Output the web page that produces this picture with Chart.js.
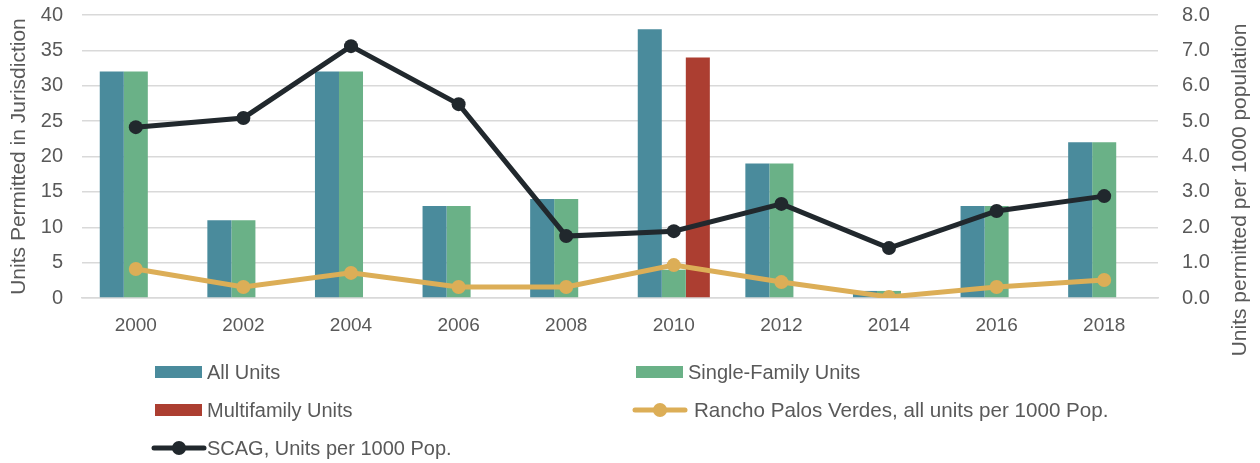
<!DOCTYPE html>
<html><head><meta charset="utf-8">
<script src="https://cdn.jsdelivr.net/npm/chart.js@4"></script>
<style>html,body{margin:0;padding:0;background:#fff;}#wrap{width:1260px;height:463px;}</style>
</head><body><div id="wrap"><canvas id="c" width="1260" height="463"></canvas></div>
<script>
const categories = ['2000','2002','2004','2006','2008','2010','2012','2014','2016','2018'];
const allUnits = [32, 11, 32, 13, 14, 38, 19, 1, 13, 22];
const singleFamily = [32, 11, 32, 13, 14, 4, 19, 1, 13, 22];
const multiFamily = [0, 0, 0, 0, 0, 34, 0, 0, 0, 0];
const rancho = [0.82, 0.31, 0.71, 0.31, 0.31, 0.93, 0.45, 0.03, 0.31, 0.51];
const scag = [4.83, 5.09, 7.12, 5.48, 1.75, 1.89, 2.66, 1.41, 2.46, 2.88];
const leftTicks = [0,5,10,15,20,25,30,35,40];
const rightTicks = ['0.0','1.0','2.0','3.0','4.0','5.0','6.0','7.0','8.0'];

const TXT = '#595959';
const FONT = '"Liberation Sans", Arial, sans-serif';
const C_TEAL = '#4A8B9C', C_GREEN = '#6AB187', C_RED = '#AC3E31', C_YEL = '#DCAE57', C_DARK = '#21282D';

const legendPlugin = {
  id: 'customLegend',
  afterDraw(chart) {
    const ctx = chart.ctx;
    const ds = chart.data.datasets;
    const items = [
      {i:0, x:155, y:372}, {i:1, x:636, y:372},
      {i:2, x:155, y:410}, {i:3, x:636, y:410},
      {i:4, x:155, y:448}
    ];
    ctx.save();
    ctx.textBaseline = 'middle';
    ctx.textAlign = 'left';
    items.forEach(it => {
      const d = ds[it.i];
      ctx.font = (it.i === 3 ? '20.6px ' : '20px ') + FONT;
      if (d.type === 'line') {
        ctx.strokeStyle = d.borderColor; ctx.lineWidth = 5; ctx.lineCap = 'round';
        ctx.beginPath(); ctx.moveTo(it.x - 1, it.y); ctx.lineTo(it.x + 49, it.y); ctx.stroke();
        ctx.fillStyle = d.borderColor;
        ctx.beginPath(); ctx.arc(it.x + 24, it.y, 7, 0, Math.PI*2); ctx.fill();
        ctx.fillStyle = TXT;
        ctx.fillText(d.label, it.x + (it.i === 3 ? 58 : 52), it.y + 1);
      } else {
        ctx.fillStyle = d.backgroundColor;
        ctx.fillRect(it.x, it.y - 6, 47, 12);
        ctx.fillStyle = TXT;
        ctx.fillText(d.label, it.x + 52, it.y + 1);
      }
    });
    ctx.translate(1240, 190);
    ctx.rotate(-Math.PI/2);
    ctx.textAlign = 'center';
    ctx.font = '21px ' + FONT;
    ctx.fillText('Units permitted per 1000 population', 0, 0);
    ctx.restore();
  }
};

new Chart(document.getElementById('c'), {
  data: {
    labels: categories,
    datasets: [
      {type:'bar', label:'All Units', data: allUnits, backgroundColor: C_TEAL, yAxisID:'y', order:2, categoryPercentage:0.67, barPercentage:1},
      {type:'bar', label:'Single-Family Units', data: singleFamily, backgroundColor: C_GREEN, yAxisID:'y', order:2, categoryPercentage:0.67, barPercentage:1},
      {type:'bar', label:'Multifamily Units', data: multiFamily, backgroundColor: C_RED, yAxisID:'y', order:2, categoryPercentage:0.67, barPercentage:1},
      {type:'line', label:'Rancho Palos Verdes, all units per 1000 Pop.', data: rancho, borderColor: C_YEL, backgroundColor: C_YEL, borderWidth:5, pointRadius:7, pointBackgroundColor: C_YEL, pointBorderWidth:0, yAxisID:'y2', order:1, tension:0},
      {type:'line', label:'SCAG, Units per 1000 Pop.', data: scag, borderColor: C_DARK, backgroundColor: C_DARK, borderWidth:5, pointRadius:7, pointBackgroundColor: C_DARK, pointBorderWidth:0, yAxisID:'y2', order:0, tension:0}
    ]
  },
  options: {
    responsive:false, animation:false,
    layout:{padding:{top:0, bottom:115, left:7, right:0}},
    plugins:{legend:{display:false}, tooltip:{enabled:false}},
    scales:{
      x:{
        grid:{display:false},
        border:{display:true, color:'#d9d9d9', width:1.5},
        ticks:{color:TXT, font:{family:FONT, size:19}, padding:8, maxRotation:0},
        afterFit(s){ s.height = 50; }
      },
      y:{
        position:'left', min:0, max:40,
        afterBuildTicks(s){ s.ticks = leftTicks.map(v=>({value:v})); },
        grid:{color:'#d9d9d9', lineWidth:1.5, drawTicks:true, tickLength:16, tickColor:'rgba(0,0,0,0)'},
        border:{display:false},
        ticks:{color:TXT, font:{family:FONT, size:20}, padding:3},
        title:{display:true, text:'Units Permitted in Jurisdiction', color:TXT, font:{family:FONT, size:21}, padding:{top:0,bottom:0}},
        afterFit(s){ s.width = 75; }
      },
      y2:{
        position:'right', min:0, max:8,
        afterBuildTicks(s){ s.ticks = rightTicks.map(v=>({value:parseFloat(v)})); },
        grid:{display:true, drawOnChartArea:false, drawTicks:true, tickLength:21, tickColor:'rgba(0,0,0,0)', color:'rgba(0,0,0,0)'},
        border:{display:false},
        ticks:{color:TXT, font:{family:FONT, size:20}, padding:3, callback:(v)=>Number(v).toFixed(1)},
        afterFit(s){ s.width = 102; }
      }
    }
  },
  plugins:[legendPlugin]
});
</script></body></html>
